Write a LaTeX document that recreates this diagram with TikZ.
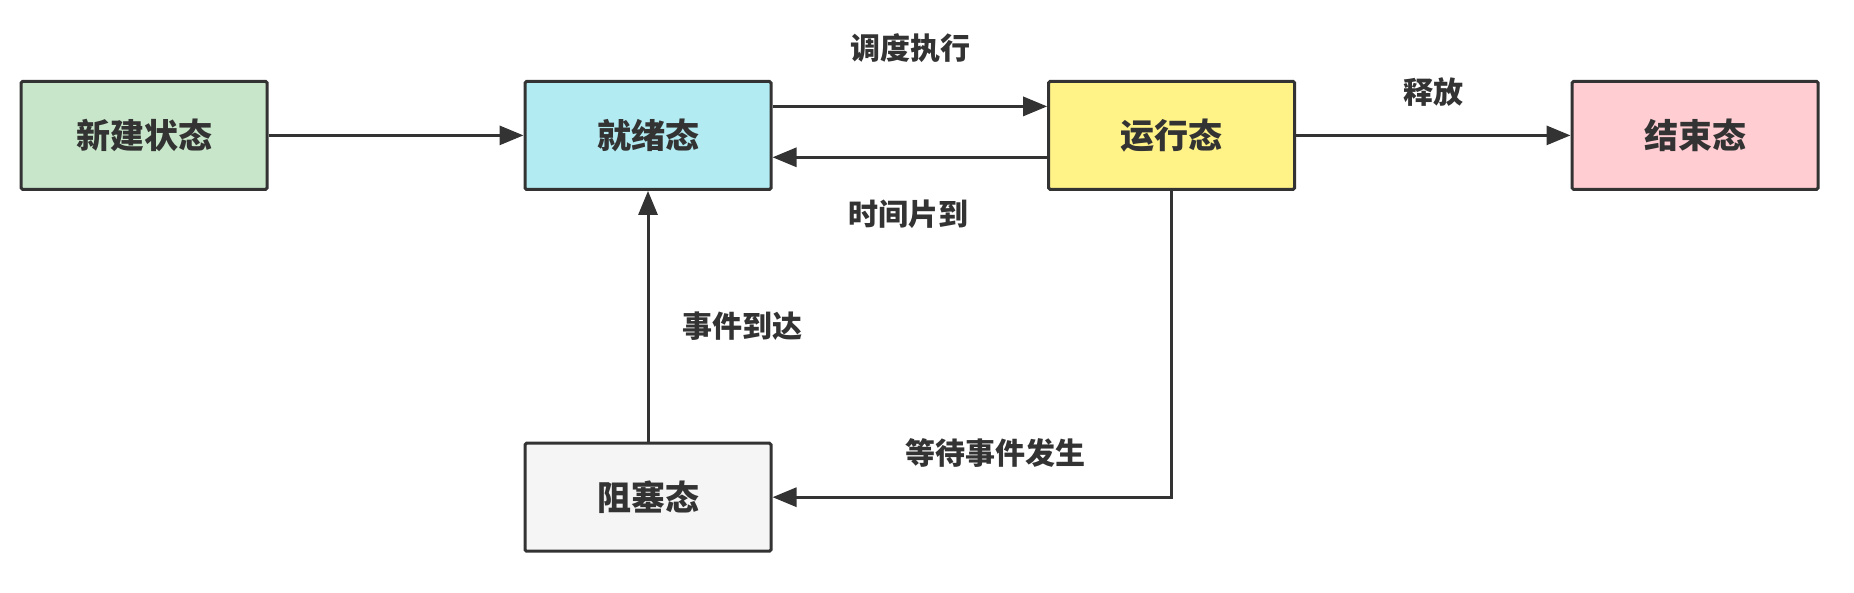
\documentclass[tikz,border=0pt]{standalone}
\usepackage{fontspec}
\setmainfont{Noto Sans CJK SC}
\usetikzlibrary{arrows.meta}
\definecolor{ink}{HTML}{333333}
\definecolor{cgreen}{HTML}{C8E6C9}
\definecolor{cblue}{HTML}{B2EBF2}
\definecolor{cyellow}{HTML}{FFF287}
\definecolor{cpink}{HTML}{FFCDD2}
\definecolor{cgray}{HTML}{F5F5F5}
\tikzset{
  statebox/.style={draw=ink, line width=3pt, rounded corners=1.5pt, minimum width=246pt, minimum height=108pt, inner sep=0pt, font=\fontsize{34}{38}\selectfont\bfseries, text=ink},
  conn/.style={draw=ink, line width=3pt, -{Triangle[length=24pt,width=19pt]}},
  lbl/.style={font=\fontsize{30}{34}\selectfont\bfseries, text=ink, inner sep=0pt}
}
\begin{document}
\begin{tikzpicture}[x=1pt,y=-1pt]
\useasboundingbox (0,0) rectangle (1854,593);
\node[statebox, fill=cgreen] (new) at (144.2,135.4) {新建状态};
\node[statebox, fill=cblue] (ready) at (648,135.4) {就绪态};
\node[statebox, fill=cyellow] (run) at (1171.7,135.4) {运行态};
\node[statebox, fill=cpink] (end) at (1695,135.4) {结束态};
\node[statebox, fill=cgray] (block) at (648,497.2) {阻塞态};

\draw[conn] (new.east) -- (ready.west);
\draw[conn] (ready.east |- 0,106.4) -- (run.west |- 0,106.4);
\draw[conn] (run.west |- 0,157.3) -- (ready.east |- 0,157.3);
\draw[conn] (run.east) -- (end.west);
\draw[conn] (block.north) -- (ready.south);
\draw[conn] (run.south) |- (block.east);

\node[lbl] (l1) at (910.4,48.5) {调度执行};
\node[lbl] (l2) at (908,214) {时间片到};
\node[lbl] (l3) at (1433,92) {释放};
\node[lbl] (l4) at (742.6,326.3) {事件到达};
\node[lbl] (l5) at (995.6,452.9) {等待事件发生};
\end{tikzpicture}
\end{document}
